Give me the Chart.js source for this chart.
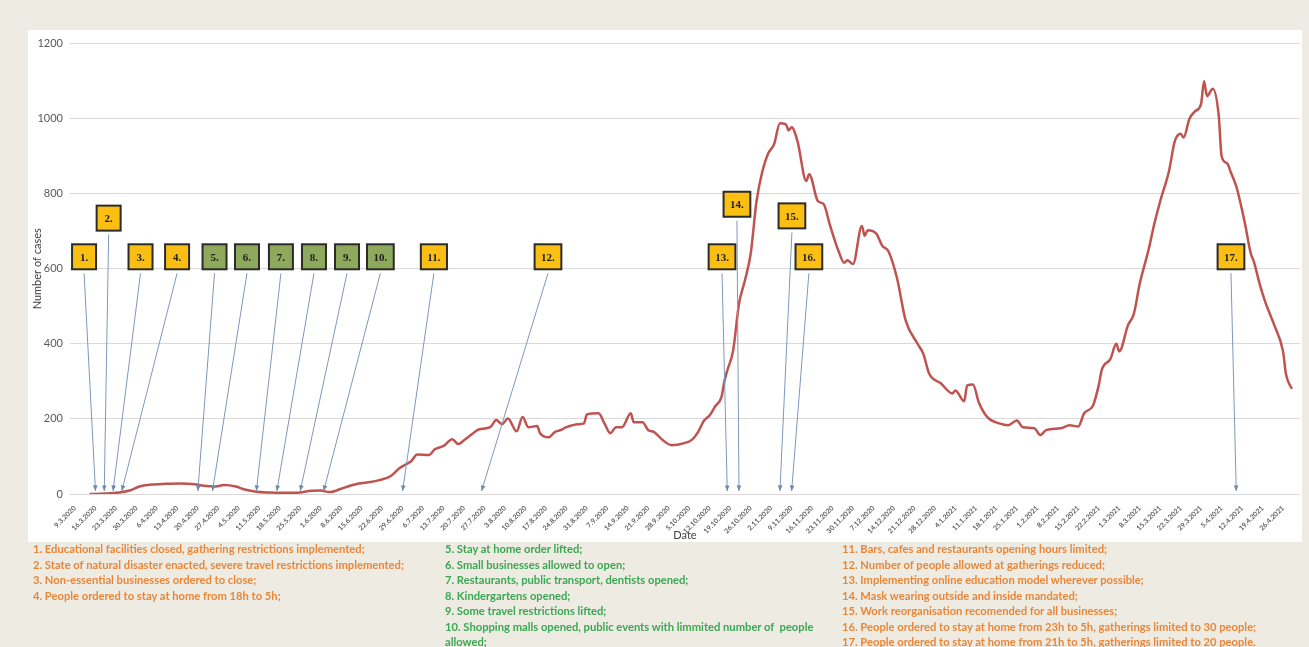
<!DOCTYPE html>
<html>
<head>
<meta charset="utf-8">
<script src="https://cdn.jsdelivr.net/npm/chart.js@4.4.0/dist/chart.umd.min.js"></script>
<style>
  html, body { margin: 0; padding: 0; }
  body { width: 1309px; height: 647px; background: #EEEBE2; position: relative; overflow: hidden; font-family: Lato, sans-serif; }
  #panel { position: absolute; left: 28px; top: 30px; width: 1274px; height: 512px; background: #fff; }
  .notes { position: absolute; top: 541px; font-size: 11.2px; font-weight: bold; line-height: 15.5px; white-space: nowrap; }
  .restrict { color: #E8873A; }
  .ease { color: #3AA853; }
</style>
</head>
<body>
<div id="panel"><canvas id="chart" width="1274" height="512"></canvas></div>
<div class="notes restrict" id="col1" style="left:33px"></div>
<div class="notes ease" id="col2" style="left:445px"></div>
<div class="notes restrict" id="col3" style="left:842px"></div>
<script>
// weekly tick labels, first one is day 0 (9.3.2020)
const tickLabels = ['9.3.2020','16.3.2020','23.3.2020','30.3.2020','6.4.2020','13.4.2020','20.4.2020','27.4.2020',
  '4.5.2020','11.5.2020','18.5.2020','25.5.2020','1.6.2020','8.6.2020','15.6.2020','22.6.2020','29.6.2020',
  '6.7.2020','13.7.2020','20.7.2020','27.7.2020','3.8.2020','10.8.2020','17.8.2020','24.8.2020','31.8.2020',
  '7.9.2020','14.9.2020','21.9.2020','28.9.2020','5.10.2020','12.10.2020','19.10.2020','26.10.2020',
  '2.11.2020','9.11.2020','16.11.2020','23.11.2020','30.11.2020','7.12.2020','14.12.2020','21.12.2020','28.12.2020',
  '4.1.2021','11.1.2021','18.1.2021','25.1.2021','1.2.2021','8.2.2021','15.2.2021','22.2.2021',
  '1.3.2021','8.3.2021','15.3.2021','22.3.2021','29.3.2021','5.4.2021','12.4.2021','19.4.2021','26.4.2021'];

// days since 9.3.2020 and number of cases
const dayIdx = [5,9,12,15,19,22,26,31,36,41,44,48,51,55,58,62,67,72,77,80,84,87,91,94,97,101,104,108,111,115,117,
  121,123,126,129,131,133,136,138,142,144,146,148,151,153,155,158,159,162,164,166,168,172,174,175,179,181,183,185,187,
  190,191,194,196,198,201,204,208,211,213,215,217,219,221,222,223,225,227,229,231,233,235,237,239,241,243,244,245,247,
  250,251,254,256,258,261,263,264,266,269,270,271,274,276,278,281,284,288,290,292,296,300,301,304,305,307,309,312,316,
  319,322,324,328,330,332,337,340,343,345,348,350,351,354,356,357,360,362,364,367,369,371,374,376,378,379,381,383,385,
  386,387,389,391,392,394,395,397,398,400,402,403,405,407,409,410,413,414,416];
const cases = [0,1,2,4,10,20,25,27,28,26,22,20,24,20,12,6,4,3,4,8,9,5,14,22,28,32,37,48,69,88,105,
  104,119,128,146,133,143,161,172,178,197,186,201,167,205,178,181,162,151,165,170,178,186,188,212,215,188,162,178,178,
  215,191,191,170,165,143,130,135,145,165,195,210,235,258,300,329,382,507,568,640,780,860,908,932,988,985,969,977,940,
  834,852,780,772,719,648,616,623,613,714,688,703,693,661,648,576,462,401,374,321,295,268,276,247,289,292,244,204,188,
  183,196,178,175,157,170,175,183,180,215,235,290,330,360,400,380,450,480,560,650,720,780,860,940,960,950,1000,1020,1040,
  1100,1060,1080,1010,900,880,860,820,790,720,640,620,560,510,470,450,380,320,280];

// measures: day each one came into force, r = restriction, e = easing
const eventDays = [7,10,13,16,42,47,62,69,77,85,112,139,223,227,241,245,397];
const eventKind = ['r','r','r','r','e','e','e','e','e','e','r','r','r','r','r','r','r'];
const eventText = [
  '1. Educational facilities closed, gathering restrictions implemented;',
  '2. State of natural disaster enacted, severe travel restrictions implemented;',
  '3. Non-essential businesses ordered to close;',
  '4. People ordered to stay at home from 18h to 5h;',
  '5. Stay at home order lifted;',
  '6. Small businesses allowed to open;',
  '7. Restaurants, public transport, dentists opened;',
  '8. Kindergartens opened;',
  '9. Some travel restrictions lifted;',
  '10. Shopping malls opened, public events with limmited number of&nbsp; people<br>allowed;',
  '11. Bars, cafes and restaurants opening hours limited;',
  '12. Number of people allowed at gatherings reduced;',
  '13. Implementing online education model wherever possible;',
  '14. Mask wearing outside and inside mandated;',
  '15. Work reorganisation recomended for all businesses;',
  '16. People ordered to stay at home from 23h to 5h, gatherings limited to 30 people;',
  '17. People ordered to stay at home from 21h to 5h, gatherings limited to 20 people.'];

// where the numbered boxes sit (day, cases)
const boxDay = [3.1,11.5,22.4,34.9,47.7,58.8,70.4,81.7,93,104.4,122.7,161.7,221.2,226.3,245.1,250.9,395.2];
const boxLevel = [632,735,632,632,632,632,632,632,632,632,632,632,632,772,741,632,632];

document.getElementById('col1').innerHTML = eventText.slice(0, 4).join('<br>');
document.getElementById('col2').innerHTML = eventText.slice(4, 10).join('<br>');
document.getElementById('col3').innerHTML = eventText.slice(10).join('<br>');

const callouts = {
  id: 'callouts',
  afterDatasetsDraw(chart) {
    const ctx = chart.ctx, x = chart.scales.x, y = chart.scales.y;
    ctx.save();
    ctx.font = 'bold 11px "Liberation Serif"';
    eventDays.forEach((d, i) => {
      const label = (i + 1) + '.';
      const bx = x.getPixelForValue(boxDay[i]);
      const by = y.getPixelForValue(boxLevel[i]);
      const w = Math.max(24, ctx.measureText(label).width + 13);
      const h = 25;
      const tx = x.getPixelForValue(d), ty = y.getPixelForValue(8);
      const sx = bx, sy = by + h / 2 + 4;
      ctx.strokeStyle = '#7D97BD';
      ctx.fillStyle = '#6E88AE';
      ctx.lineWidth = 1;
      ctx.beginPath(); ctx.moveTo(sx, sy); ctx.lineTo(tx, ty); ctx.stroke();
      const a = Math.atan2(ty - sy, tx - sx);
      ctx.beginPath();
      ctx.moveTo(tx, ty);
      ctx.lineTo(tx - 6 * Math.cos(a - 0.4), ty - 6 * Math.sin(a - 0.4));
      ctx.lineTo(tx - 6 * Math.cos(a + 0.4), ty - 6 * Math.sin(a + 0.4));
      ctx.closePath(); ctx.fill();

      ctx.fillStyle = eventKind[i] === 'r' ? '#FBBF14' : '#8DA95B';
      ctx.fillRect(bx - w / 2, by - h / 2, w, h);
      ctx.strokeStyle = '#2b2b2b';
      ctx.lineWidth = 2;
      ctx.strokeRect(bx - w / 2, by - h / 2, w, h);
      ctx.fillStyle = '#222';
      ctx.textAlign = 'center';
      ctx.textBaseline = 'middle';
      ctx.fillText(label, bx, by + 1);
    });
    ctx.restore();
  }
};

Chart.defaults.font.family = 'Lato, sans-serif';

new Chart(document.getElementById('chart'), {
  type: 'line',
  data: {
    datasets: [{
      data: dayIdx.map((d, i) => ({x: d, y: cases[i]})),
      borderColor: '#BF5350',
      borderWidth: 2.5,
      pointRadius: 0,
      cubicInterpolationMode: 'monotone',
      fill: false
    }]
  },
  options: {
    responsive: false,
    animation: false,
    layout: {padding: {top: 12, right: 2, left: 0, bottom: 0}},
    plugins: {legend: {display: false}, tooltip: {enabled: false}},
    scales: {
      x: {
        type: 'linear',
        min: -1.71,
        max: 418.8,
        afterBuildTicks: scale => { scale.ticks = tickLabels.map((t, i) => ({value: i * 7})); },
        afterFit: scale => { scale.height = 48; },
        grid: {display: false},
        border: {display: false},
        ticks: {
          autoSkip: false,
          minRotation: 45,
          maxRotation: 45,
          padding: 2,
          color: '#5e5e5e',
          font: {size: 7, weight: 'bold'},
          callback: (v, i) => tickLabels[i]
        },
        title: {display: true, text: 'Date', color: '#404040', font: {size: 11}, padding: {top: 0, bottom: 0}}
      },
      y: {
        min: 0,
        max: 1200,
        afterFit: scale => { scale.width = 42; },
        ticks: {stepSize: 200, color: '#595959', font: {size: 11}, padding: 7, callback: v => String(v)},
        grid: {color: '#d9d9d9', drawTicks: false},
        border: {display: false},
        title: {display: true, text: 'Number of cases', color: '#404040', font: {size: 11}, padding: {top: 3, bottom: 0}}
      }
    }
  },
  plugins: [callouts]
});
</script>
</body>
</html>
